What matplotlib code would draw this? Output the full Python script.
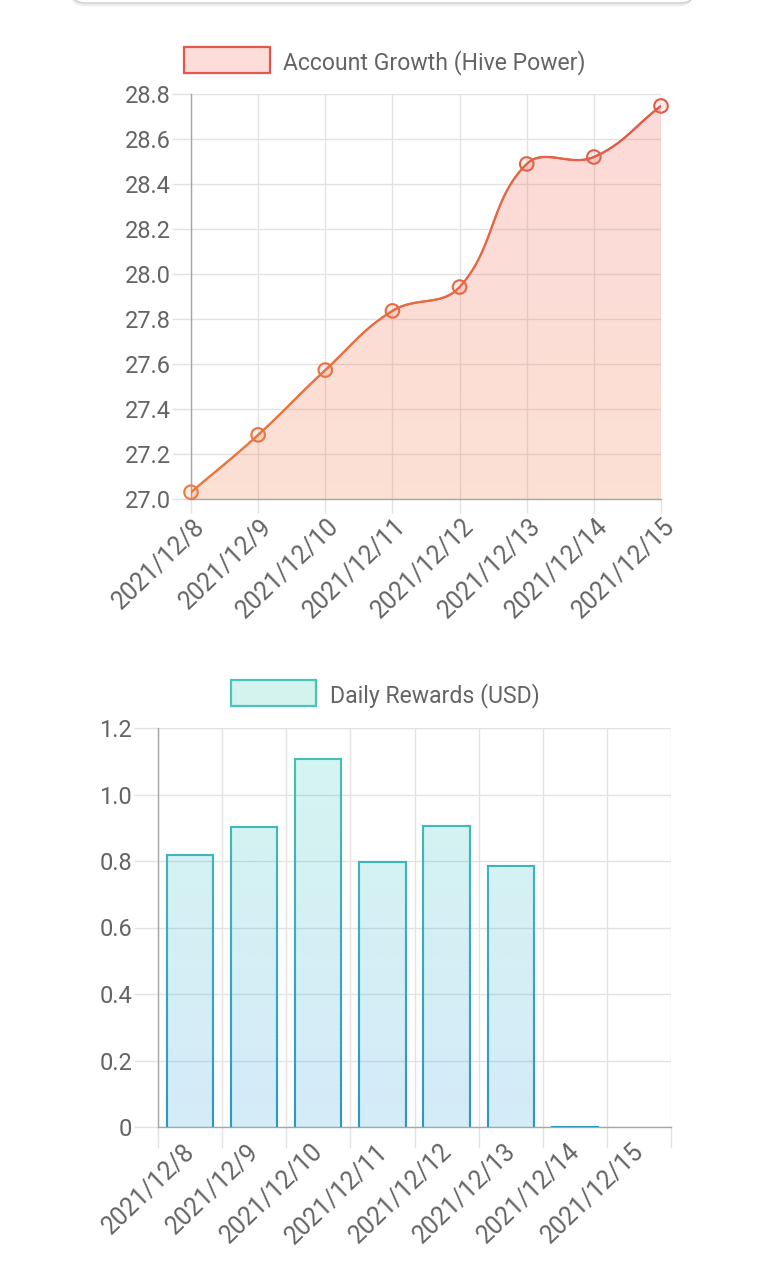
import numpy as np
import matplotlib
matplotlib.use('Agg')
import matplotlib.pyplot as plt
from matplotlib.path import Path
from matplotlib.patches import PathPatch, Rectangle, FancyBboxPatch
from matplotlib.collections import LineCollection
from matplotlib.transforms import Affine2D, ScaledTranslation

plt.rcParams['font.family'] = ['Roboto', 'DejaVu Sans']

# ---------------- data ----------------
dates = ['2021/12/8', '2021/12/9', '2021/12/10', '2021/12/11',
         '2021/12/12', '2021/12/13', '2021/12/14', '2021/12/15']
hive_power = [27.03, 27.285, 27.573, 27.836, 27.942, 28.489, 28.52, 28.747]
daily_rewards = [0.818, 0.902, 1.107, 0.797, 0.905, 0.785, 0.0, np.nan]
hp_ticks = [27.0, 27.2, 27.4, 27.6, 27.8, 28.0, 28.2, 28.4, 28.6, 28.8]
hp_tick_labels = ['27.0', '27.2', '27.4', '27.6', '27.8', '28.0', '28.2', '28.4', '28.6', '28.8']
usd_ticks = [0, 0.2, 0.4, 0.6, 0.8, 1.0, 1.2]
usd_tick_labels = ['0', '0.2', '0.4', '0.6', '0.8', '1.0', '1.2']
hp_label = 'Account Growth (Hive Power)'
usd_label = 'Daily Rewards (USD)'

W, H = 768, 1283
fig = plt.figure(figsize=(W / 100, H / 100), dpi=100)
fig.patch.set_facecolor('white')
px = Affine2D().scale(1, -1).translate(0, H)  # top-origin pixel coords

TXT = '#646464'
GRID = '#e2e2e2'
AXC = '#a6a6a6'
FS = 17
FSX = 17.8
FSL = 16.6


def rgb(*c):
    return np.array(c, dtype=float) / 255.0


# ---------------- card border at top ----------------
shadow = FancyBboxPatch((71, -40), 624, 44, boxstyle='round,pad=0,rounding_size=14',
                        transform=px, fc='none', ec='#ececec', lw=3)
card = FancyBboxPatch((71, -40), 624, 43, boxstyle='round,pad=0,rounding_size=14',
                      transform=px, fc='white', ec='#cfcfcf', lw=1)
fig.add_artist(shadow)
fig.add_artist(card)

# ---------------- top chart (line) ----------------
ax1 = fig.add_axes([191 / W, 1 - 499 / H, 470 / W, 405 / H])
x1 = np.arange(len(dates))
ax1.set_xlim(0, len(dates) - 1)
ax1.set_ylim(hp_ticks[0], hp_ticks[-1])
ax1.set_xticks(x1)
ax1.set_xticklabels(dates)
ax1.set_yticks(hp_ticks)
ax1.set_yticklabels(hp_tick_labels)
ax1.grid(True, color=GRID, lw=1.0)
ax1.set_axisbelow(True)
for s in ['top', 'right']:
    ax1.spines[s].set_visible(False)
for s in ['left', 'bottom']:
    ax1.spines[s].set_color(AXC)
    ax1.spines[s].set_linewidth(1.0)
ax1.tick_params(axis='y', length=13.5, width=1, color=GRID, pad=1, labelsize=FS, labelcolor=TXT)
ax1.tick_params(axis='x', length=10, width=1, color=GRID, pad=1, labelsize=FSX, labelcolor=TXT)
plt.setp(ax1.get_xticklabels(), rotation=44, ha='right', rotation_mode='anchor')
for lab in ax1.get_xticklabels():
    lab.set_transform(lab.get_transform() + ScaledTranslation(2 / 100, 0, fig.dpi_scale_trans))

# Chart.js style bezier (tension 0.4) computed in display space
P = ax1.transData.transform(np.column_stack([x1, hive_power]))
n = len(P)
tension = 0.4
cp_prev = np.zeros_like(P)
cp_next = np.zeros_like(P)
bb = ax1.get_window_extent()
for i in range(n):
    p0 = P[i - 1] if i > 0 else P[i]
    p1 = P[i]
    p2 = P[i + 1] if i < n - 1 else P[i]
    d01 = np.hypot(*(p1 - p0))
    d12 = np.hypot(*(p2 - p1))
    tot = d01 + d12
    s01 = d01 / tot if tot else 0
    s12 = d12 / tot if tot else 0
    cp_prev[i] = p1 - tension * s01 * (p2 - p0)
    cp_next[i] = p1 + tension * s12 * (p2 - p0)
for arr in (cp_prev, cp_next):
    arr[:, 0] = np.clip(arr[:, 0], bb.x0, bb.x1)
    arr[:, 1] = np.clip(arr[:, 1], bb.y0, bb.y1)

curve = [P[0]]
tt = np.linspace(0, 1, 60)[1:]
for i in range(n - 1):
    a, b, c, d = P[i], cp_next[i], cp_prev[i + 1], P[i + 1]
    seg = ((1 - tt) ** 3)[:, None] * a + (3 * (1 - tt) ** 2 * tt)[:, None] * b \
        + (3 * (1 - tt) * tt ** 2)[:, None] * c + (tt ** 3)[:, None] * d
    curve.extend(seg)
curve = ax1.transData.inverted().transform(np.array(curve))

# gradient fill under the curve
ymin, ymax = hp_ticks[0], hp_ticks[-1]
poly = np.vstack([curve, [[x1[-1], ymin], [x1[0], ymin]], curve[:1]])
clip = PathPatch(Path(poly, closed=True), fc='none', ec='none', transform=ax1.transData)
ax1.add_patch(clip)
fb = rgb(247, 131, 83)
ft = rgb(243, 105, 100)
g = np.linspace(0, 1, 256)[:, None]
grad = np.zeros((256, 1, 4))
grad[:, 0, :3] = fb * (1 - g) + ft * g
grad[:, 0, 3] = 0.25
im = ax1.imshow(grad, extent=(x1[0], x1[-1], ymin, ymax), origin='lower', aspect='auto',
                zorder=1, interpolation='bilinear')
im.set_clip_path(clip)
ax1.set_xlim(0, len(dates) - 1)
ax1.set_ylim(ymin, ymax)

# gradient line
lc_left = rgb(234, 122, 62)
lc_right = rgb(226, 90, 72)
segs = np.stack([curve[:-1], curve[1:]], axis=1)
fr = ((segs[:, 0, 0] + segs[:, 1, 0]) / 2 - x1[0]) / (x1[-1] - x1[0])
cols = lc_left * (1 - fr[:, None]) + lc_right * fr[:, None]
lc = LineCollection(segs, colors=cols, linewidths=1.6, zorder=3, capstyle='round')
ax1.add_collection(lc)

# markers
frp = (x1 - x1[0]) / (x1[-1] - x1[0])
mcols = lc_left * (1 - frp[:, None]) + lc_right * frp[:, None]
fcols = np.column_stack([mcols, np.full(len(x1), 0.12)])
ax1.scatter(x1, hive_power, s=95, facecolors=fcols, edgecolors=mcols, linewidths=1.5,
            zorder=4, clip_on=False)

# legend top
fig.add_artist(Rectangle((184, 47), 86, 26, transform=px, fc=rgb(252, 221, 217),
                         ec=rgb(226, 88, 74), lw=1.6))
fig.text(283, 60, hp_label, transform=px, ha='left', va='center_baseline', fontsize=FSL, color=TXT)

# ---------------- bottom chart (bars) ----------------
ax2 = fig.add_axes([158 / W, 1 - 1127 / H, 513 / W, 399 / H])
x2 = np.arange(len(dates))
ax2.set_xlim(-0.5, len(dates) - 0.5)
ax2.set_ylim(usd_ticks[0], usd_ticks[-1])
ax2.set_xticks(np.arange(len(dates) + 1) - 0.5)
ax2.set_xticklabels([])
ax2.set_xticks(x2, minor=True)
ax2.set_xticklabels(dates, minor=True)
ax2.set_yticks(usd_ticks)
ax2.set_yticklabels(usd_tick_labels)
ax2.grid(True, which='major', color=GRID, lw=1.0)
ax2.set_axisbelow(True)
for s in ['top', 'right']:
    ax2.spines[s].set_visible(False)
for s in ['left', 'bottom']:
    ax2.spines[s].set_color(AXC)
    ax2.spines[s].set_linewidth(1.0)
ax2.tick_params(axis='y', length=17.5, width=1, color=GRID, pad=1, labelsize=FS, labelcolor=TXT)
ax2.tick_params(axis='x', which='major', length=15, width=1, color=GRID)
ax2.tick_params(axis='x', which='minor', length=0, pad=9, labelsize=FSX, labelcolor=TXT)
plt.setp(ax2.get_xticklabels(minor=True), rotation=44, ha='right', rotation_mode='anchor')
for lab in ax2.get_xticklabels(minor=True):
    lab.set_transform(lab.get_transform() + ScaledTranslation(-7 / 100, 0, fig.dpi_scale_trans))

vals = np.array(daily_rewards, dtype=float)
bars = ax2.bar(x2, np.nan_to_num(vals), width=0.72, fc='none', ec='none', zorder=2)
bt = rgb(40, 205, 182)
bbm = rgb(40, 155, 222)
eb_top = rgb(70, 196, 180)
eb_bot = rgb(44, 150, 196)
g2 = np.linspace(0, 1, 256)[:, None]
grad2 = np.zeros((256, 1, 4))
grad2[:, 0, :3] = bbm * (1 - g2) + bt * g2
grad2[:, 0, 3] = 0.2
y2max = usd_ticks[-1]
edge_segs, edge_cols = [], []
for v, r in zip(vals, bars.patches):
    if np.isnan(v):
        continue
    x0, w, h = r.get_x(), r.get_width(), r.get_height()
    if h > 0:
        im2 = ax2.imshow(grad2, extent=(-0.5, len(dates) - 0.5, 0, y2max), origin='lower',
                         aspect='auto', zorder=2, interpolation='bilinear')
        im2.set_clip_path(r)
    ys = np.linspace(0, h, 80)
    for xx in (x0, x0 + w):
        for k in range(len(ys) - 1):
            edge_segs.append([(xx, ys[k]), (xx, ys[k + 1])])
            f = (ys[k] + ys[k + 1]) / 2 / y2max
            edge_cols.append(eb_bot * (1 - f) + eb_top * f)
    edge_segs.append([(x0, h), (x0 + w, h)])
    f = h / y2max
    edge_cols.append(eb_bot * (1 - f) + eb_top * f)
ax2.add_collection(LineCollection(edge_segs, colors=edge_cols, linewidths=1.5, zorder=3,
                                  capstyle='projecting'))
ax2.set_xlim(-0.5, len(dates) - 0.5)
ax2.set_ylim(usd_ticks[0], usd_ticks[-1])

# legend bottom
fig.add_artist(Rectangle((231, 680), 85, 26, transform=px, fc=rgb(212, 243, 239),
                         ec=rgb(72, 196, 184), lw=1.6))
fig.text(330, 693, usd_label, transform=px, ha='left', va='center_baseline', fontsize=FSL, color=TXT)

fig.savefig('out.png', dpi=100, facecolor='white')
